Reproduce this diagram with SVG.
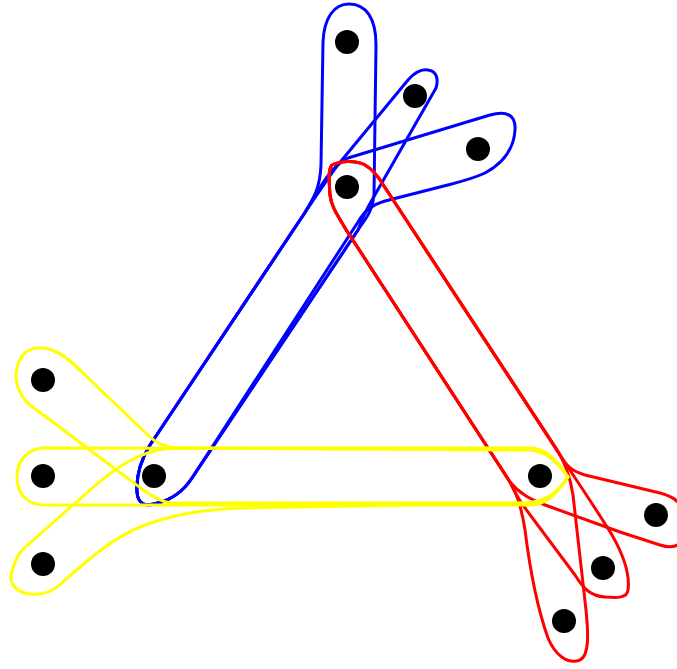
<svg xmlns="http://www.w3.org/2000/svg" width="677" height="669" viewBox="0 0 677 669">
<style>
.e{fill:none;stroke-width:3;stroke-linejoin:round}
.b{stroke:#0000ff}
.r{stroke:#ff0000}
.y{stroke:#ffff00}
.n{fill:#000}
</style>
<rect width="677" height="669" fill="#fff"/>
<g id="hyperedges">
<path class="e b" d="M349,4 C366,4 376,18 376,45 L374,195 C373,208 368,216 362,224 L192,478 C182,493 170,500 158,503 C146,507 138,505 137,492 C136,475 142,458 150,445 L304,214 C314,198 320,188 321,165 L323,42 C324,18 334,4 349,4 Z"/>
<path class="e b" d="M304,214 C315,198 325,182 337,166 L408,80 C415,72 422,69 428,70 C436,71 439,78 436,88 L372,200 C366,210 363,216 358,230 L192,478 C182,493 170,500 158,503 C146,507 138,505 137,492 C136,475 142,458 150,445 Z"/>
<path class="e b" d="M304,214 C318,192 328,168 348,158 L490,115 C508,110 516,116 515,130 C514,148 505,162 485,173 C470,180 455,183 440,187 L385,201 C372,205 365,210 358,222 L192,478 C182,493 170,500 158,503 C146,507 138,505 137,492 C136,475 142,458 150,445 Z"/>
<path class="e r" d="M332,165 C340,161 355,160 365,165 C372,169 378,176 384,186 L560,455 C566,466 572,471 585,475 L660,493 C680,498 688,510 686,528 C684,545 675,550 660,545 L620,532 L545,505 C530,499 520,494 510,482 L345,228 C338,216 331,206 330,195 C329,180 328,170 332,165 Z"/>
<path class="e r" d="M332,165 C340,161 355,160 365,165 C372,169 378,176 384,186 L562,458 C575,478 600,515 612,535 C624,556 630,575 628,590 C627,598 618,598 605,597 C590,596 583,588 575,575 L525,508 C518,498 514,492 510,482 L345,228 C338,216 331,206 330,195 C329,180 328,170 332,165 Z"/>
<path class="e r" d="M332,165 C340,161 355,160 365,165 C372,169 378,176 384,186 L556,448 C565,462 570,475 573,495 L586,610 C588,630 590,655 580,660 C568,665 555,655 548,638 C538,610 530,570 525,530 C522,510 518,495 510,482 L345,228 C338,216 331,206 330,195 C329,180 328,170 332,165 Z"/>
<path class="e y" d="M37,348 C55,346 70,360 85,375 L150,437 C160,446 170,448 185,448 L530,448 C545,448 555,458 568,477 C558,492 548,502 530,503 L175,503 C160,503 150,495 130,480 L30,405 C18,395 14,380 17,368 C20,355 27,349 37,348 Z"/>
<path class="e y" d="M45,448 L530,449 C545,449 555,458 568,477 C556,495 545,505 530,505 L45,505 C28,505 17,495 17,477 C17,460 28,448 45,448 Z"/>
<path class="e y" d="M173,448 L530,450 C545,451 556,460 568,477 C556,494 545,502 525,503 L240,508 C200,510 170,515 140,527 C115,537 90,558 65,580 C55,590 45,596 30,594 C15,592 8,582 12,572 C14,563 18,555 22,550 L90,490 C115,468 140,450 173,448 Z"/>
</g>
<g id="nA"><circle class="n" cx="347" cy="42" r="12"/></g>
<g id="nB"><circle class="n" cx="415" cy="96" r="12"/></g>
<g id="nC"><circle class="n" cx="478" cy="149" r="12"/></g>
<g id="nD"><circle class="n" cx="347" cy="187" r="12"/></g>
<g id="nE"><circle class="n" cx="43" cy="380" r="12"/></g>
<g id="nF"><circle class="n" cx="43" cy="476" r="12"/></g>
<g id="nG"><circle class="n" cx="43" cy="564" r="12"/></g>
<g id="nH"><circle class="n" cx="154" cy="476" r="12"/></g>
<g id="nI"><circle class="n" cx="540" cy="476" r="12"/></g>
<g id="nJ"><circle class="n" cx="656" cy="515" r="12"/></g>
<g id="nK"><circle class="n" cx="603" cy="568" r="12"/></g>
<g id="nL"><circle class="n" cx="564" cy="621" r="12"/></g>
</svg>
